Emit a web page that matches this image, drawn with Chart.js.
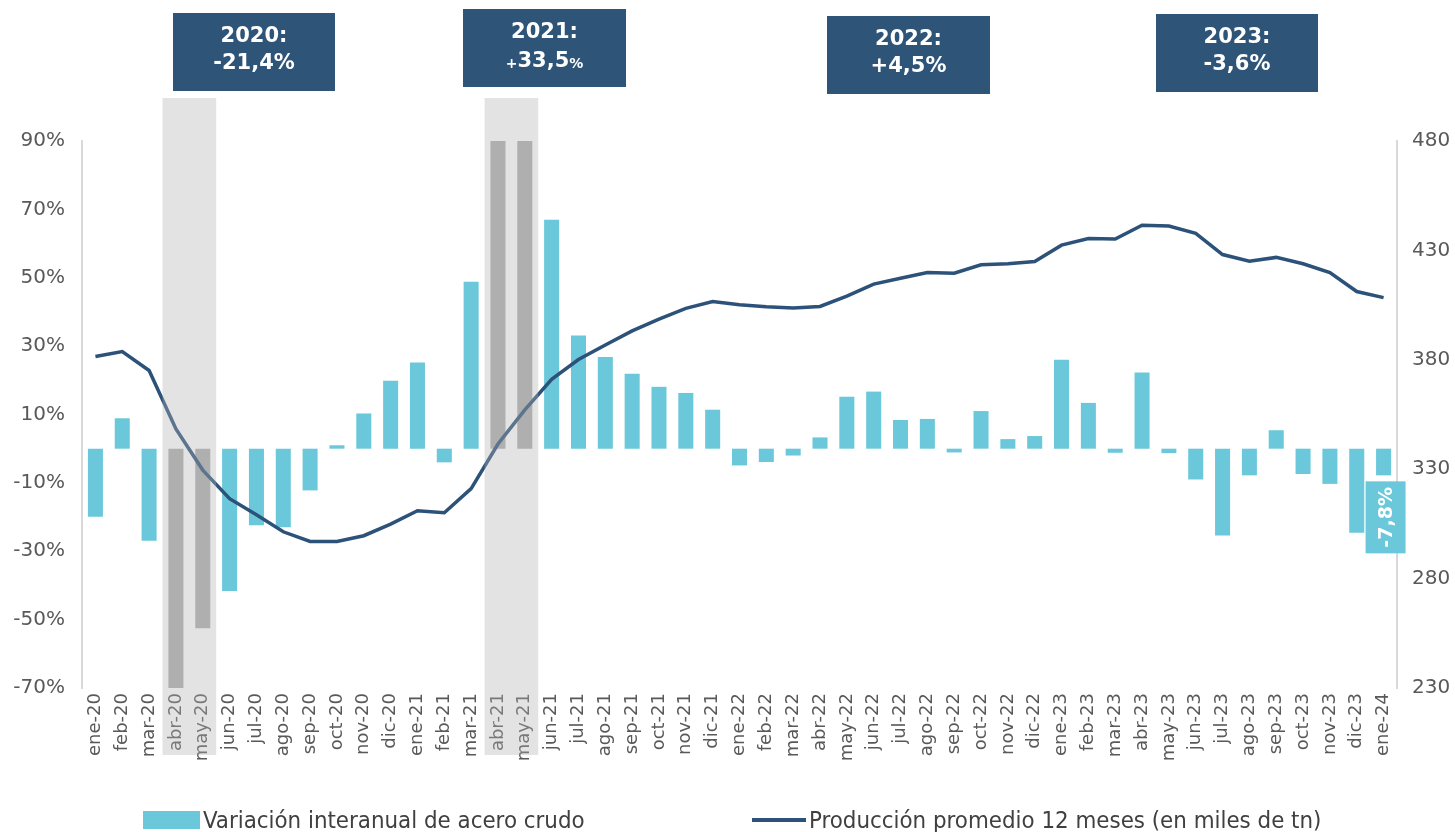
<!DOCTYPE html>
<html lang="es">
<head>
<meta charset="UTF-8">
<title>Acero crudo</title>
<script src="https://cdn.jsdelivr.net/npm/chart.js"></script>
<style>
    html, body { margin: 0; padding: 0; background: #fff; }
    #wrap { position: relative; width: 1455px; height: 832px; }
    .leyenda {
        position: absolute; top: 805px; height: 30px;
        display: flex; align-items: center;
        font-family: "DejaVu Sans Condensed", "DejaVu Sans", sans-serif;
        font-stretch: condensed; font-size: 23.8px; color: #404040;
        white-space: nowrap;
    }
    .caja { width: 57px; height: 18px; background: #6ac8da; margin-right: 3px; }
    .linea { width: 54px; height: 4px; background: #2c5279; margin-right: 3px; }
</style>
</head>
<body>
<div id="wrap">
    <canvas id="grafico" width="1455" height="832"></canvas>
    <div class="leyenda" style="left:143px"><span class="caja"></span>Variación interanual de acero crudo</div>
    <div class="leyenda" style="left:752px"><span class="linea"></span>Producción promedio 12 meses (en miles de tn)</div>
</div>

<script>
    // categorías (meses)
    const meses = [
        'ene-20','feb-20','mar-20','abr-20','may-20','jun-20','jul-20','ago-20','sep-20','oct-20','nov-20','dic-20',
        'ene-21','feb-21','mar-21','abr-21','may-21','jun-21','jul-21','ago-21','sep-21','oct-21','nov-21','dic-21',
        'ene-22','feb-22','mar-22','abr-22','may-22','jun-22','jul-22','ago-22','sep-22','oct-22','nov-22','dic-22',
        'ene-23','feb-23','mar-23','abr-23','may-23','jun-23','jul-23','ago-23','sep-23','oct-23','nov-23','dic-23',
        'ene-24'
    ];

    // variación interanual (%), eje izquierdo
    const variacion = [
        -19.9, 8.9, -26.9, -70, -52.5, -41.6, -22.4, -23.0, -12.2, 1.0, 10.3, 19.9,
        25.2, -4.0, 48.8, 90, 90, 67.0, 33.1, 26.8, 21.9, 18.1, 16.3, 11.4,
        -4.9, -3.9, -2.0, 3.3, 15.2, 16.7, 8.4, 8.7, -1.1, 11.0, 2.8, 3.7,
        26.0, 13.4, -1.2, 22.3, -1.3, -9.0, -25.4, -7.8, 5.4, -7.4, -10.3, -24.6,
        -7.8
    ];

    // producción promedio 12 meses (miles de tn), eje derecho
    const promedio12m = [
        381.5, 383.8, 375.1, 348.4, 329.6, 316.5, 309.2, 301.4, 297.0, 297.0, 299.6, 304.9,
        311.0, 310.1, 321.1, 341.5, 357.1, 371.1, 380.1, 386.8, 393.2, 398.6, 403.5, 406.6,
        405.2, 404.2, 403.7, 404.4, 409.1, 414.6, 417.3, 419.9, 419.6, 423.4, 423.9, 424.9,
        432.4, 435.4, 435.2, 441.5, 441.1, 437.8, 428.1, 425.1, 426.8, 423.9, 419.9, 411.2,
        408.4
    ];

    // meses sombreados
    const mesesDestacados = [['abr-20', 'may-20'], ['abr-21', 'may-21']];

    // recuadros de variación anual
    const anios = ['2020:', '2021:', '2022:', '2023:'];
    const variacionAnual = ['-21,4%', '+33,5%', '+4,5%', '-3,6%'];
    const etiquetaUltimo = '-7,8%';

    const CYAN = '#6ac8da';
    const GRIS_BARRA = '#aeaeae';
    const AZUL = '#2c5279';
    const TEXTO = '#595959';

    const destacados = mesesDestacados.flat();
    const coloresBarras = meses.map(m => destacados.includes(m) ? GRIS_BARRA : CYAN);

    // sombreado semitransparente sobre los meses destacados
    const sombreado = {
        id: 'sombreado',
        afterDraw(chart) {
            const { ctx, chartArea, scales: { x } } = chart;
            const w = (chartArea.right - chartArea.left) / meses.length;
            ctx.save();
            ctx.fillStyle = 'rgba(178,178,178,0.36)';
            mesesDestacados.forEach(([a, b]) => {
                const x0 = x.getPixelForValue(meses.indexOf(a)) - w / 2;
                const x1 = x.getPixelForValue(meses.indexOf(b)) + w / 2;
                ctx.fillRect(x0, 98, x1 - x0, 657);
            });
            ctx.restore();
        }
    };

    // etiqueta del último dato
    const etiquetaFinal = {
        id: 'etiquetaFinal',
        afterDraw(chart) {
            const { ctx } = chart;
            const el = chart.getDatasetMeta(0).data[meses.length - 1];
            const cx = el.x + 2, top = el.y + 6, h = 72, w = 40;
            ctx.save();
            ctx.fillStyle = CYAN;
            ctx.fillRect(cx - w / 2, top, w, h);
            ctx.translate(cx, top + h / 2);
            ctx.rotate(-Math.PI / 2);
            ctx.fillStyle = '#fff';
            ctx.font = 'bold 19px "DejaVu Sans"';
            ctx.textAlign = 'center';
            ctx.textBaseline = 'middle';
            ctx.fillText(etiquetaUltimo, 0, 1);
            ctx.restore();
        }
    };

    // recuadros azules arriba
    const recuadros = {
        id: 'recuadros',
        afterDraw(chart) {
            const { ctx } = chart;
            const cajas = [
                { x: 173, y: 13, w: 162, h: 78 },
                { x: 463, y: 9, w: 163, h: 78 },
                { x: 827, y: 16, w: 163, h: 78 },
                { x: 1156, y: 14, w: 162, h: 78 }
            ];
            ctx.save();
            cajas.forEach((c, i) => {
                ctx.fillStyle = '#2e5478';
                ctx.fillRect(c.x, c.y, c.w, c.h);
                ctx.fillStyle = '#fff';
                ctx.textAlign = 'center';
                ctx.textBaseline = 'middle';
                ctx.font = 'bold 21px "DejaVu Sans"';
                const cx = c.x + c.w / 2;
                ctx.fillText(anios[i], cx, c.y + 24);
                if (i === 1) {
                    // signo y porcentaje más chicos
                    const v = variacionAnual[i];
                    const medio = v.slice(1, -1);
                    ctx.font = 'bold 21px "DejaVu Sans"';
                    const wm = ctx.measureText(medio).width;
                    ctx.font = 'bold 14px "DejaVu Sans"';
                    const ws = ctx.measureText('+').width, wp = ctx.measureText('%').width;
                    let x0 = cx - (ws + wm + wp) / 2;
                    ctx.textAlign = 'left';
                    ctx.fillText('+', x0, c.y + 55);
                    ctx.font = 'bold 21px "DejaVu Sans"';
                    ctx.fillText(medio, x0 + ws, c.y + 53);
                    ctx.font = 'bold 14px "DejaVu Sans"';
                    ctx.fillText('%', x0 + ws + wm, c.y + 55);
                } else {
                    ctx.fillText(variacionAnual[i], cx, c.y + 51);
                }
            });
            ctx.restore();
        }
    };

    const ctx = document.getElementById('grafico').getContext('2d');
    new Chart(ctx, {
        data: {
            labels: meses,
            datasets: [
                {
                    type: 'bar',
                    label: 'Variación interanual de acero crudo',
                    data: variacion,
                    backgroundColor: coloresBarras,
                    yAxisID: 'y',
                    barPercentage: 0.56,
                    categoryPercentage: 1,
                    order: 2
                },
                {
                    type: 'line',
                    label: 'Producción promedio 12 meses (en miles de tn)',
                    data: promedio12m,
                    borderColor: AZUL,
                    borderWidth: 3.5,
                    pointRadius: 0,
                    tension: 0,
                    yAxisID: 'y1',
                    order: 1
                }
            ]
        },
        options: {
            responsive: false,
            animation: false,
            layout: { padding: { top: 141, bottom: 72, left: 0, right: 0 } },
            plugins: {
                legend: { display: false },
                tooltip: { enabled: false }
            },
            scales: {
                x: {
                    grid: { display: false, drawTicks: false },
                    border: { display: false },
                    ticks: {
                        autoSkip: false, minRotation: 90, maxRotation: 90, padding: 5,
                        color: TEXTO, font: { family: 'DejaVu Sans', size: 18 }
                    },
                    afterFit: s => { s.height = 72; }
                },
                y: {
                    position: 'left',
                    min: -70, max: 90,
                    grid: { display: false, drawTicks: false },
                    border: { display: true, color: '#d9d9d9', width: 2 },
                    ticks: {
                        stepSize: 20, padding: 17, color: TEXTO,
                        font: { family: 'DejaVu Sans', size: 20 },
                        callback: v => v + '%'
                    },
                    afterFit: s => { s.width = 82; }
                },
                y1: {
                    position: 'right',
                    min: 230, max: 480,
                    grid: { display: false, drawTicks: false },
                    border: { display: true, color: '#d9d9d9', width: 2 },
                    ticks: {
                        stepSize: 50, padding: 15, color: TEXTO,
                        font: { family: 'DejaVu Sans', size: 20 }
                    },
                    afterFit: s => { s.width = 58; }
                }
            }
        },
        plugins: [sombreado, etiquetaFinal, recuadros]
    });
</script>
</body>
</html>
